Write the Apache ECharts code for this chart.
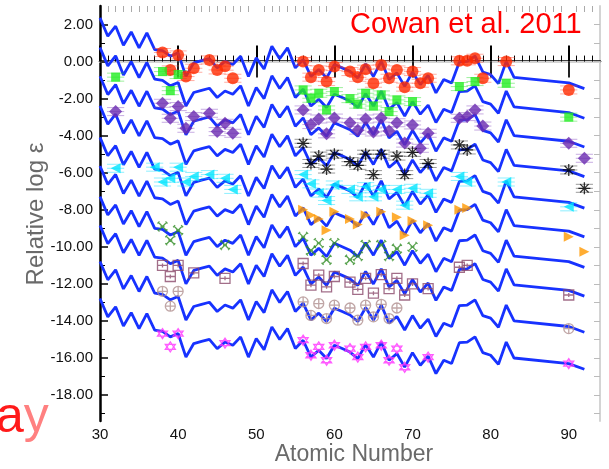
<!DOCTYPE html>
<html>
<head>
<meta charset="utf-8">
<script src="https://cdn.jsdelivr.net/npm/echarts@6/dist/echarts.min.js"></script>
<style>
  html, body { margin: 0; padding: 0; background: #fff; }
  #chart { width: 609px; height: 469px; }
</style>
</head>
<body>
<div id="chart"></div>
<script>
// axis ticks
const xMajor = [30, 40, 50, 60, 70, 80, 90];
const xMinor = [];
for (let z = 31; z <= 93; z++) if (z % 10 !== 0) xMinor.push(z);
const yMajor = [-18, -16, -14, -12, -10, -8, -6, -4, -2, 0, 2];
const yMinor = [-19, -17, -15, -13, -11, -9, -7, -5, -3, -1, 1];
const yAll = [];
for (let v = -19; v <= 2; v++) yAll.push(v);

// scaled solar r-process curve (bottom copy), atomic number -> log eps
const solarZ = [30, 31, 32, 33, 34, 35, 36, 37, 38, 39, 40, 41, 42, 43, 44, 45, 46, 47, 48, 49,
  50, 51, 52, 53, 54, 55, 56, 57, 58, 59, 60, 61, 62, 63, 64, 65, 66, 67, 68, 69,
  70, 71, 72, 73, 74, 75, 76, 77, 78, 79, 80, 81, 82, 83, 90, 92];
const solarR = [-12.79, -13.78, -13.24, -14.27, -13.55, -14.41, -13.6, -14.5, -14.56, -14.86,
  -14.68, -15.95, -15.22, -15.1, -14.99, -15.49, -15.14, -15.31, -14.86, -15.95,
  -14.95, -15.55, -14.32, -15.0, -14.41, -15.49, -15.04, -15.95, -15.58, -16.03,
  -15.31, -15.49, -15.68, -16.03, -15.28, -15.95, -15.14, -16.12, -15.76, -16.49,
  -15.71, -16.39, -15.9, -16.84, -16.12, -16.3, -15.17, -15.14, -14.86, -15.71,
  -15.85, -16.34, -15.14, -16.0, -16.3, -16.61];
// vertical shift of each copy, top to bottom
const lineOffsets = [15.15, 13.55, 12.0, 10.4, 8.7, 7.15, 5.5, 3.95, 2.0, 0];

// stars: [Z, relative log eps]
const cs22892 = [[38, 0.49], [39, -0.45], [40, 0.36], [41, -0.81], [42, -0.36], [44, 0.09], [45, -0.45],
  [46, -0.25], [47, -0.9], [56, 0.0], [57, -0.84], [58, -0.45], [59, -1.08], [60, -0.27], [62, -0.54],
  [63, -0.85], [64, -0.41], [65, -1.17], [66, -0.18], [67, -0.9], [68, -0.45], [69, -1.38], [70, -0.54],
  [71, -1.17], [72, -0.9], [76, 0.04], [77, 0.04], [78, 0.18], [79, -0.9], [82, 0.0], [90, -1.53]];
const hd115444 = [[32, -0.84], [38, -0.54], [39, -1.57], [40, -0.7], [56, -1.53], [57, -1.98], [58, -1.71],
  [59, -2.61], [60, -1.62], [62, -2.0], [63, -2.3], [64, -1.71], [65, -2.4], [66, -1.8], [67, -2.7],
  [68, -2.07], [70, -2.16], [76, -1.35], [78, -1.08], [82, -1.17], [90, -3.0]];
const bd173248 = [[32, -2.7], [38, -2.25], [39, -3.06], [40, -2.43], [41, -3.6], [42, -2.97], [44, -2.79],
  [45, -3.78], [46, -3.33], [47, -3.87], [56, -2.61], [57, -3.4], [58, -3.1], [59, -3.9], [60, -3.05],
  [62, -3.3], [63, -3.7], [64, -3.1], [65, -3.8], [66, -3.05], [67, -3.75], [68, -3.3], [69, -4.4],
  [70, -3.42], [71, -4.68], [72, -3.87], [76, -3.06], [77, -2.97], [78, -2.61], [79, -3.48], [90, -4.41], [92, -5.22]];
const cs31082 = [[56, -4.41], [57, -5.5], [58, -5.1], [59, -5.8], [60, -5.0], [62, -5.4], [63, -5.6],
  [64, -5.0], [65, -6.1], [66, -5.0], [68, -5.1], [69, -6.1], [70, -4.9], [72, -5.5], [76, -4.5],
  [77, -4.77], [90, -5.85], [92, -6.84]];
const hd221170 = [[32, -5.76], [37, -5.7], [38, -6.5], [39, -6.3], [40, -5.7], [41, -6.5], [42, -6.2],
  [44, -6.1], [46, -6.3], [47, -6.9], [56, -6.1], [57, -6.6], [58, -7.1], [59, -7.5], [60, -6.66],
  [62, -6.9], [63, -7.3], [64, -6.75], [65, -7.3], [66, -6.9], [68, -6.9], [69, -7.75], [70, -6.84],
  [72, -7.11], [76, -6.2], [77, -6.5], [82, -6.5], [90, -7.84]];
const he1523 = [[56, -8.0], [57, -8.3], [58, -8.5], [59, -9.1], [60, -8.1], [62, -8.5], [63, -8.8],
  [64, -8.3], [66, -8.1], [68, -8.4], [69, -9.37], [70, -8.6], [72, -8.83], [76, -8.0], [77, -7.9],
  [90, -9.46], [92, -10.27]];
const cs22953 = [[38, -8.9], [39, -9.64], [40, -9.1], [46, -9.9], [56, -9.46], [57, -10.2], [58, -9.8],
  [59, -10.7], [60, -9.8], [62, -10.7], [63, -10.5], [64, -9.9], [66, -9.9], [67, -10.5], [68, -10.1], [70, -10.0]];
const he2327 = [[38, -11.0], [39, -11.6], [40, -11.0], [42, -11.4], [46, -11.7], [56, -10.9], [57, -12.07],
  [58, -11.53], [59, -12.16], [60, -11.6], [62, -11.9], [63, -12.3], [64, -11.7], [65, -12.5], [66, -11.5],
  [67, -12.25], [68, -11.7], [69, -12.6], [70, -12.0], [72, -12.25], [76, -11.1], [77, -11.0], [90, -12.6]];
const cs29491 = [[38, -12.4], [39, -13.2], [40, -12.4], [56, -12.97], [57, -13.7], [58, -13.06], [59, -13.87],
  [60, -13.15], [62, -13.3], [63, -13.96], [64, -13.15], [65, -13.78], [66, -13.1], [67, -13.87], [68, -13.3], [90, -14.41]];
const he1219 = [[38, -14.68], [39, -15.4], [40, -14.68], [46, -15.2], [56, -15.04], [57, -15.85], [58, -15.4],
  [59, -16.12], [60, -15.31], [62, -15.49], [63, -15.95], [64, -15.4], [66, -15.31], [67, -16.12],
  [68, -15.49], [69, -16.5], [72, -15.95], [90, -16.3]];

const FONT = 'Liberation Sans';
const asterisk = 'path://M0,5L10,5M5,0L5,10M1.5,1.5L8.5,8.5M8.5,1.5L1.5,8.5';
const xCross = 'path://M1,1L9,9M9,1L1,9M0,2L2,0M8,0L10,2M0,8L2,10M8,10L10,8M3,5L7,5';
const boxPlus = 'path://M0,0L10,0L10,10L0,10ZM0,5L10,5M5,3L5,7';
const circlePlus = 'path://M0,5A5,5,0,1,0,10,5A5,5,0,1,0,0,5ZM0,5L10,5M5,0L5,10';
const hexagram = 'path://M5,0L9.33,7.5L0.67,7.5ZM5,10L0.67,2.5L9.33,2.5Z';

const chart = echarts.init(document.getElementById('chart'));

const curveSeries = lineOffsets.map(off => ({
  type: 'line',
  xAxisIndex: 0,
  yAxisIndex: 0,
  data: solarZ.map((z, i) => [z, +(solarR[i] + off).toFixed(2)]),
  showSymbol: false,
  silent: true,
  z: 2,
  lineStyle: { color: '#1732ff', width: 2.8 }
}));

// faint horizontal hatch around the points (error marks)
function hatch(data, color) {
  return {
    type: 'custom',
    data: data,
    silent: true,
    z: 3,
    renderItem: (params, api) => {
      const c = api.coord([api.value(0), api.value(1)]);
      const l = api.coord([api.value(0) - 1.1, api.value(1)]);
      const r = api.coord([api.value(0) + 1.1, api.value(1)]);
      return {
        type: 'group',
        children: [-4, 0, 4].map(dy => ({
          type: 'line',
          shape: { x1: l[0], y1: c[1] + dy, x2: r[0], y2: c[1] + dy },
          style: { stroke: color, lineWidth: 1 }
        }))
      };
    }
  };
}

function stars(data, symbol, size, style, rotate) {
  return {
    type: 'scatter',
    data: data,
    symbol: symbol,
    symbolSize: size,
    symbolRotate: rotate || 0,
    silent: true,
    z: 4,
    itemStyle: style
  };
}

const hollow = c => ({ color: 'rgba(0,0,0,0)', borderColor: c, borderWidth: 1.3 });

const series = [
  ...curveSeries,
  hatch(cs22892, 'rgba(255,70,50,0.45)'),
  hatch(hd115444, 'rgba(40,220,40,0.45)'),
  hatch(bd173248, 'rgba(130,70,190,0.45)'),
  hatch(cs31082, 'rgba(0,0,0,0.4)'),
  hatch(hd221170, 'rgba(0,220,255,0.45)'),
  stars(cs22892, 'circle', 12, { color: '#ff2a00' }),
  stars(hd115444, 'rect', 9, { color: '#22ee22' }),
  stars(bd173248, 'diamond', 13, { color: '#6a2bb0' }),
  stars(cs31082, asterisk, 12, hollow('#000')),
  stars(hd221170, 'triangle', 10, { color: '#00e5ff' }, 90),
  stars(he1523, 'triangle', 10, { color: '#ff9900' }, -90),
  stars(cs22953, xCross, 10, hollow('#2e8b22')),
  stars(he2327, boxPlus, 10, hollow('#8b4a6b')),
  stars(cs29491, circlePlus, 10, hollow('#b09090')),
  stars(he1219, hexagram, 10, hollow('#ff33ff'))
];

const baseX = { type: 'value', min: 30, max: 94, splitLine: { show: false } };
const baseY = { type: 'value', min: -19.4, max: 3, splitLine: { show: false } };

chart.setOption({
  animation: false,
  backgroundColor: '#fff',
  grid: { left: 100, right: 9, top: 6, bottom: 48, containLabel: false },
  xAxis: [
    {
      ...baseX, position: 'bottom',
      axisLine: { show: true, lineStyle: { color: '#000', width: 2.5 } },
      axisTick: { show: true, inside: true, length: 16, customValues: xMajor, lineStyle: { color: '#000', width: 2 } },
      axisLabel: { customValues: xMajor, color: '#111', fontSize: 15, fontFamily: FONT, margin: 6 }
    },
    {
      ...baseX, position: 'bottom',
      axisLine: { show: false },
      axisTick: { show: true, inside: true, length: 6, customValues: xMinor, lineStyle: { color: '#000', width: 1 } },
      axisLabel: { show: false }
    },
    {
      ...baseX, position: 'top',
      axisLine: { show: true, lineStyle: { color: '#d4d4d4', width: 2 } },
      axisTick: { show: true, inside: true, length: 16, customValues: xMajor.slice(1), lineStyle: { color: '#222', width: 2 } },
      axisLabel: { show: false }
    },
    {
      ...baseX, position: 'top',
      axisLine: { show: false },
      axisTick: { show: true, inside: true, length: 6, customValues: xMinor, lineStyle: { color: '#aaa', width: 1 } },
      axisLabel: { show: false }
    }
  ],
  yAxis: [
    {
      ...baseY, position: 'left',
      axisLine: { show: true, lineStyle: { color: '#000', width: 2.5 } },
      axisTick: { show: true, inside: true, length: 8, customValues: yMajor, lineStyle: { color: '#000', width: 1.5 } },
      axisLabel: {
        customValues: yMajor, color: '#111', fontSize: 15, fontFamily: FONT, margin: 7,
        formatter: v => v.toFixed(2)
      }
    },
    {
      ...baseY, position: 'left',
      axisLine: { show: false },
      axisTick: { show: true, inside: true, length: 5, customValues: yMinor, lineStyle: { color: '#000', width: 1 } },
      axisLabel: { show: false }
    },
    {
      ...baseY, position: 'right',
      axisLine: { show: true, lineStyle: { color: '#d4d4d4', width: 2 } },
      axisTick: { show: true, inside: true, length: 6, customValues: yAll, lineStyle: { color: '#bbb', width: 1 } },
      axisLabel: { show: false }
    }
  ],
  graphic: [
    {
      type: 'text', left: 350, top: 10, z: 10,
      style: { text: 'Cowan et al. 2011', fill: '#ff0000', font: '29px "Liberation Sans"' }
    },
    {
      type: 'text', x: 36, y: 214, rotation: Math.PI / 2, z: 10,
      style: { text: 'Relative log ε', fill: '#6a6a6a', font: '24px "Liberation Sans"', align: 'center', verticalAlign: 'middle' }
    },
    {
      type: 'text', x: 354, y: 455, z: 10,
      style: { text: 'Atomic Number', fill: '#6a6a6a', font: '23px "Liberation Sans"', align: 'center', verticalAlign: 'middle' }
    },
    {
      type: 'text', x: -4, y: 418, z: 10,
      style: {
        text: '{a|a}{y|y}', align: 'left', verticalAlign: 'middle',
        rich: {
          a: { fill: '#ff1a1a', font: '50px "Liberation Sans"' },
          y: { fill: '#ff8080', font: '50px "Liberation Sans"' }
        }
      }
    }
  ],
  series: series
});
</script>
</body>
</html>
